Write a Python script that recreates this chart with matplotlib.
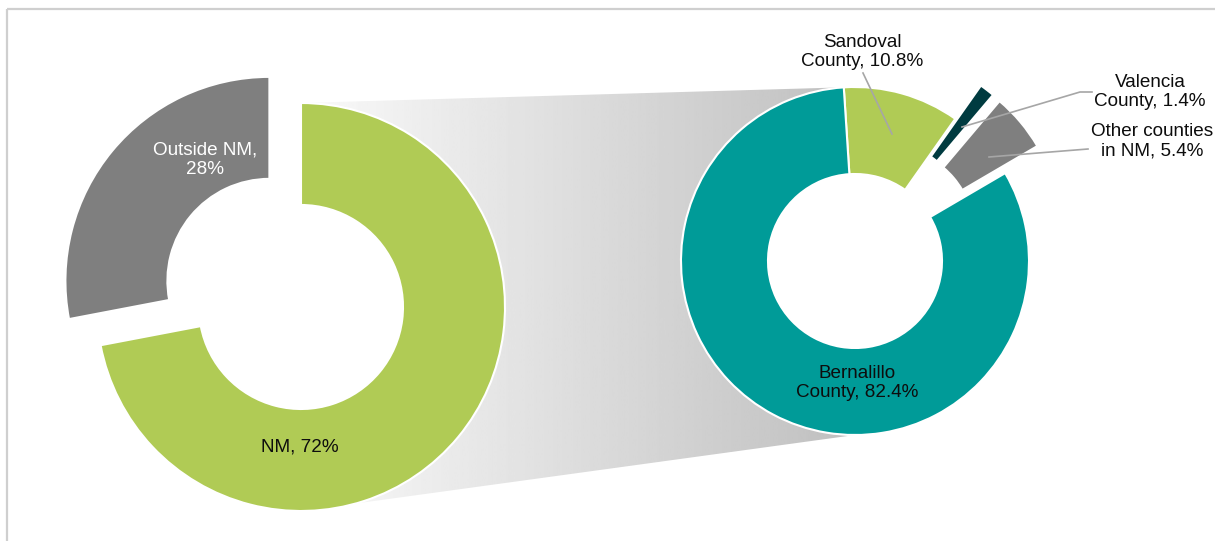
import numpy as np
import matplotlib.pyplot as plt
from matplotlib.patches import Polygon, Circle

plt.rcParams['font.family'] = ['Liberation Sans', 'DejaVu Sans']

# --- data ---
state_labels = ['NM, 72%', 'Outside NM,\n28%']
state_share = [72, 28]
state_colors = ['#B0CB55', '#7F7F7F']

county_labels = ['Sandoval\nCounty, 10.8%', 'Valencia\nCounty, 1.4%',
                 'Other counties\nin NM, 5.4%', 'Bernalillo\nCounty, 82.4%']
county_share = [10.8, 1.4, 5.4, 82.4]
county_colors = ['#B0CB55', '#003B40', '#7F7F7F', '#009B98']

W, H = 1215, 541
fig = plt.figure(figsize=(W / 100, H / 100), dpi=100)
ax = fig.add_axes([0, 0, 1, 1])

# pixel-style layout (y measured from the top)
c1 = (301, H - 307)
r1 = 204
c2 = (855, H - 261)
r2 = 174
hole = 0.5

# connector band from the main ring to the breakdown ring, grey gradient
band = [(c1[0], c1[1] + r1), (c2[0], c2[1] + r2),
        (c2[0], c2[1] - r2), (c1[0], c1[1] - r1)]
poly = Polygon(band, closed=True, facecolor='none', edgecolor='none')
ax.add_patch(poly)
grad = np.linspace(0.98, 0.75, 256).reshape(1, -1)
img = ax.imshow(grad, cmap='gray', vmin=0, vmax=1, aspect='auto',
                extent=(c1[0], c2[0], c1[1] - r1, c2[1] + r2 + 20), zorder=0)
img.set_clip_path(poly)

# keep the ring holes white over the band
for c, r in [(c1, r1), (c2, r2)]:
    ax.add_patch(Circle(c, r * (1 - hole), facecolor='white', edgecolor='none', zorder=0.5))

ax.pie(state_share, colors=state_colors, startangle=90, counterclock=False,
       center=c1, radius=r1, explode=[0, 41], frame=True,
       wedgeprops=dict(width=r1 * hole, edgecolor='white', linewidth=1.5))

ax.pie(county_share, colors=county_colors, startangle=93.7, counterclock=False,
       center=c2, radius=r2, explode=[0, 42, 42, 0], frame=True,
       wedgeprops=dict(width=r2 * hole, edgecolor='white', linewidth=1.5))

fs = 13.6
ls = 1.2
tc = '#0D0D0D'
ax.text(300, H - 447, state_labels[0], ha='center', va='center', fontsize=fs, color=tc)
ax.text(205, H - 160, state_labels[1], ha='center', va='center', fontsize=fs,
        color='white', linespacing=ls)

ax.text(857, H - 383, county_labels[3], ha='center', va='center', fontsize=fs,
        color=tc, linespacing=ls)
ax.text(862, H - 52, county_labels[0], ha='center', va='center', fontsize=fs,
        color=tc, linespacing=ls)
ax.text(1150, H - 92, county_labels[1], ha='center', va='center', fontsize=fs,
        color=tc, linespacing=ls)
ax.text(1152, H - 141, county_labels[2], ha='center', va='center', fontsize=fs,
        color=tc, linespacing=ls)

# leader lines
lc = '#A6A6A6'
ax.plot([863, 892], [H - 73, H - 134], color=lc, lw=1.2)
ax.plot([1092, 1080, 962], [H - 92, H - 92, H - 127], color=lc, lw=1.2)
ax.plot([1088, 1038, 989], [H - 149, H - 153, H - 157], color=lc, lw=1.2)

# chart frame (top and left edges)
ax.plot([6.5, W], [H - 8.5, H - 8.5], color='#CFCFCF', lw=1.6, solid_capstyle='butt')
ax.plot([6.5, 6.5], [H - 8.5, 0], color='#CFCFCF', lw=1.6, solid_capstyle='butt')

ax.set_xlim(0, W)
ax.set_ylim(0, H)
ax.set_aspect('equal')
ax.axis('off')

fig.savefig('out.png', dpi=100)
